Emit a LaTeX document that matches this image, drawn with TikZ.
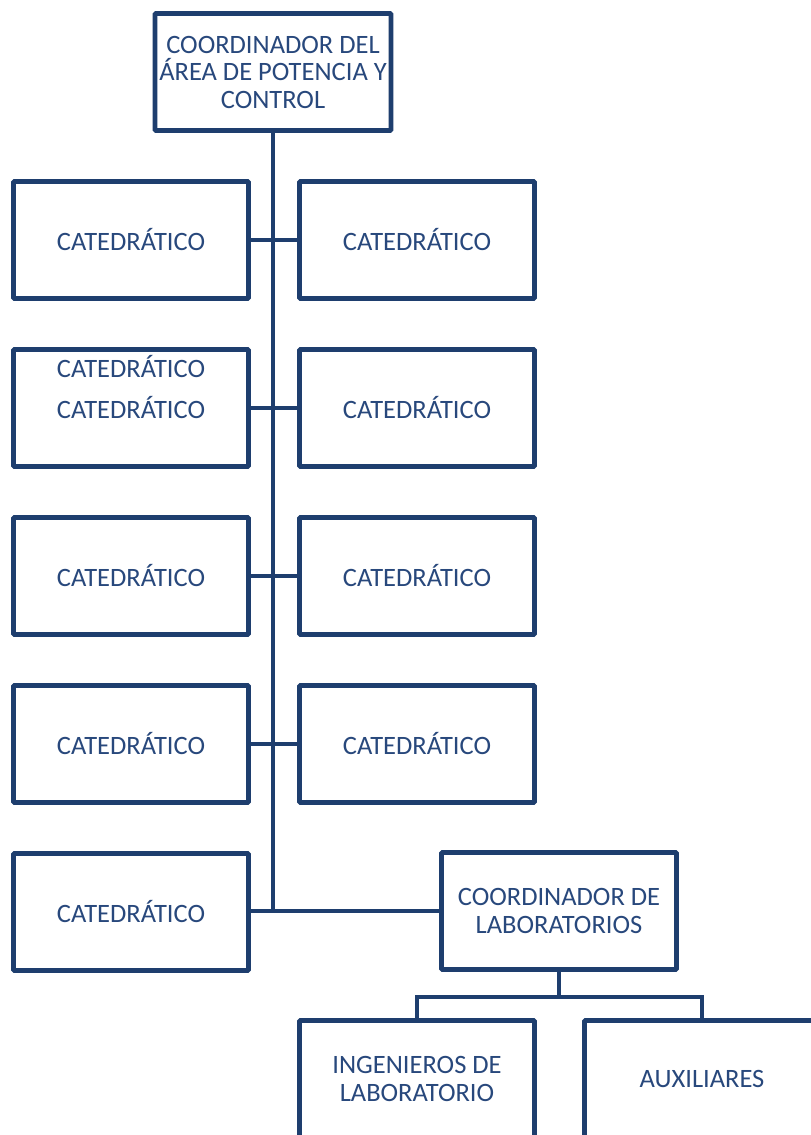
\documentclass[tikz,border=0pt]{standalone}
\usepackage{fontspec}
\setmainfont{Carlito}
\definecolor{linecol}{RGB}{30,62,110}
\definecolor{textcol}{RGB}{40,72,124}
\begin{document}
\begin{tikzpicture}[x=1pt,y=-1pt,
  box/.style={draw=linecol,line width=4.8pt,rounded corners=1pt,fill=white,
    minimum width=235pt,minimum height=117pt,inner sep=0pt,
    text=textcol,align=center,font=\fontsize{26.5}{27.5}\selectfont},
  lbl/.style={text=textcol,inner sep=0pt,font=\fontsize{26.5}{27.5}\selectfont},
  conn/.style={draw=linecol,line width=4.8pt}]
\useasboundingbox (0,0) rectangle (811,1135);
\clip (0,0) rectangle (811,1135);
\fill[white] (0,0) rectangle (811,1135);
% nodes
\node[box,minimum width=236pt] (top) at (273,72) {COORDINADOR DEL\\ÁREA DE POTENCIA Y\\CONTROL};
\node[box] (l1) at (131,240) {CATEDRÁTICO};
\node[box] (r1) at (417,240) {CATEDRÁTICO};
\node[box] (l2) at (131,408) {CATEDRÁTICO};
\node[lbl] (l2b) at (131,367) {CATEDRÁTICO};
\node[box] (r2) at (417,408) {CATEDRÁTICO};
\node[box] (l3) at (131,576) {CATEDRÁTICO};
\node[box] (r3) at (417,576) {CATEDRÁTICO};
\node[box] (l4) at (131,744) {CATEDRÁTICO};
\node[box] (r4) at (417,744) {CATEDRÁTICO};
\node[box] (l5) at (131,912) {CATEDRÁTICO};
\node[box] (lab) at (559,911) {COORDINADOR DE\\LABORATORIOS};
\node[box] (ing) at (417,1079) {INGENIEROS DE\\LABORATORIO};
\node[box] (aux) at (702,1079) {AUXILIARES};
% connectors
\draw[conn] (top.south) -- (top.south |- lab.west);
\draw[conn] (l1.east) -- (r1.west);
\draw[conn] (l2.east) -- (r2.west);
\draw[conn] (l3.east) -- (r3.west);
\draw[conn] (l4.east) -- (r4.west);
\draw[conn] (l5.east |- lab.west) -- (lab.west);
\draw[conn] (lab.south) -- ++(0,25) -| (ing.north);
\draw[conn] (lab.south) -- ++(0,25) -| (aux.north);
\end{tikzpicture}
\end{document}
